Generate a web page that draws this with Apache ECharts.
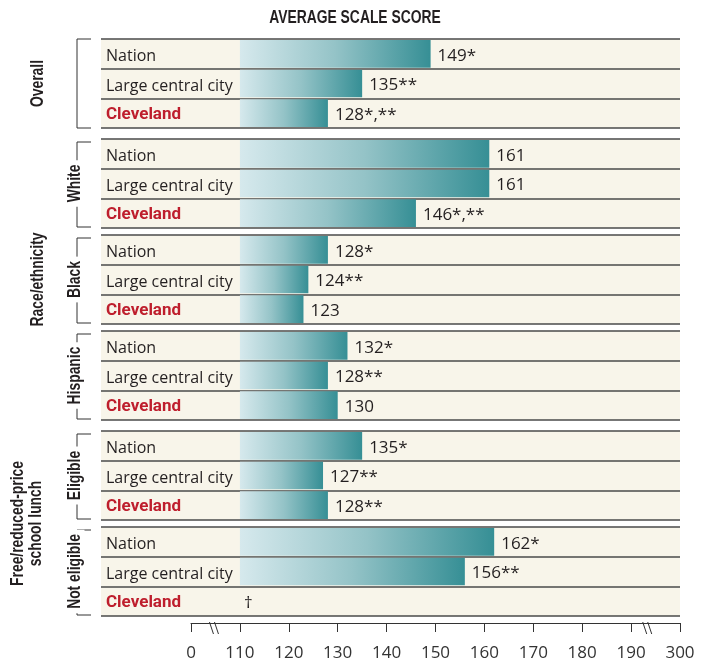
<!DOCTYPE html>
<html>
<head>
<meta charset="utf-8">
<script src="https://cdn.jsdelivr.net/npm/echarts@6/dist/echarts.min.js"></script>
<style>
  html, body { margin: 0; padding: 0; background: #ffffff; }
  #chart { width: 701px; height: 662px; }
</style>
</head>
<body>
<div id="chart"></div>
<script>
// ---- data ----
const rowLabels = ['Nation', 'Large central city', 'Cleveland'];

const overallScores  = [149, 135, 128];
const overallNotes   = ['*', '**', '*,**'];
const whiteScores    = [161, 161, 146];
const whiteNotes     = ['', '', '*,**'];
const blackScores    = [128, 124, 123];
const blackNotes     = ['*', '**', ''];
const hispanicScores = [132, 128, 130];
const hispanicNotes  = ['*', '**', ''];
const eligibleScores = [135, 127, 128];
const eligibleNotes  = ['*', '**', '**'];
const notEligibleScores = [162, 156, null];   // Cleveland: reporting standards not met
const notEligibleNotes  = ['*', '**', '†'];

const groupLabels = ['Overall', 'White', 'Black', 'Hispanic', 'Eligible', 'Not eligible'];
const categoryLabels = ['Overall', 'Race/ethnicity', 'Free/reduced-price\nschool lunch'];
const groupCategory = [0, 1, 1, 1, 2, 2];

const axisTickValues = [100, 110, 120, 130, 140, 150, 160, 170, 180, 190, 200];
const axisTickLabels = ['0', '110', '120', '130', '140', '150', '160', '170', '180', '190', '300'];
const barBase = 110;

const groupScores = [overallScores, whiteScores, blackScores, hispanicScores, eligibleScores, notEligibleScores];
const groupNotes  = [overallNotes, whiteNotes, blackNotes, hispanicNotes, eligibleNotes, notEligibleNotes];

// ---- layout ----
const W = 701;
const panelLeft = 101, panelRight = 680;
const axisStartX = 191;              // where the "0" tick sits
const groupH = 89;
const firstTop = 39;
const gapNewCategory = 11, gapSameCategory = 7;
const bracketX = 77;
const condense = 0.73;               // horizontal squeeze for the heading-style labels

const pxPerUnit = (panelRight - axisStartX) / (axisTickValues[axisTickValues.length - 1] - axisTickValues[0]);
const panelMin = axisTickValues[0] - (axisStartX - panelLeft) / pxPerUnit;

const groupTops = [];
groupLabels.forEach((g, i) => {
  if (i === 0) { groupTops.push(firstTop); return; }
  const gap = groupCategory[i] !== groupCategory[i - 1] ? gapNewCategory : gapSameCategory;
  groupTops.push(groupTops[i - 1] + groupH + gap);
});

const bodyFont = '"Open Sans", "Liberation Sans", sans-serif';
const headFont = '"Liberation Sans", Arial, sans-serif';
const ink = '#231f20';
const red = '#be1e2d';

const barFill = new echarts.graphic.LinearGradient(0, 0, 1, 0, [
  { offset: 0, color: '#d6e9ed' },
  { offset: 0.5, color: '#94c3c7' },
  { offset: 1, color: '#368f95' }
]);

const grids = [], xAxes = [], yAxes = [], series = [];

groupLabels.forEach((g, gi) => {
  grids.push({ left: panelLeft, right: W - panelRight, top: groupTops[gi], height: groupH, containLabel: false });
  xAxes.push({ type: 'value', gridIndex: gi, min: panelMin, max: 200, show: false });
  yAxes.push({
    type: 'category', gridIndex: gi, data: rowLabels, inverse: true,
    axisLine: { show: false }, axisTick: { show: false },
    axisLabel: {
      inside: true, margin: 5,
      formatter: v => v === 'Cleveland' ? '{c|' + v + '}' : '{n|' + v + '}',
      rich: {
        n: { color: ink, fontFamily: bodyFont, fontSize: 16, padding: [5, 0, 0, 0] },
        c: { color: red, fontFamily: 'Roboto, "Liberation Sans", sans-serif', fontSize: 17, fontWeight: 'bold', padding: [4, 0, 0, 0] }
      }
    },
    splitArea: { show: true, areaStyle: { color: ['#f8f5ea'] } },
    splitLine: { show: true, lineStyle: { color: '#4a4a4a', width: 1.5 } }
  });
  const scores = groupScores[gi];
  const notes = groupNotes[gi];
  series.push({
    type: 'custom', xAxisIndex: gi, yAxisIndex: gi,
    data: scores.map((v, i) => [v, i]),
    renderItem: (params, api) => {
      const i = params.dataIndex;
      const v = scores[i];
      const bandH = api.size([0, 1])[1];
      const base = api.coord([barBase, i]);
      const children = [];
      let endX = base[0];
      if (v != null) {
        const end = api.coord([v, i]);
        endX = end[0];
        children.push({
          type: 'rect',
          shape: { x: base[0], y: base[1] - bandH / 2 + 1, width: end[0] - base[0], height: bandH - 2 },
          style: { fill: barFill }
        });
      }
      children.push({
        type: 'text',
        style: {
          text: v != null ? String(v) + notes[i] : notes[i],
          x: endX + (v != null ? 7 : 4), y: base[1] + 2,
          verticalAlign: 'middle', align: 'left',
          fill: ink, font: '17px ' + bodyFont
        }
      });
      return { type: 'group', children };
    }
  });
});

// bottom scale axis
const axisGrid = grids.length;
grids.push({ left: axisStartX, right: W - panelRight, top: 600, height: 28 });
xAxes.push({
  type: 'value', gridIndex: axisGrid, min: 100, max: 200, interval: 10, position: 'bottom',
  axisLine: { show: true, lineStyle: { color: '#333', width: 1 } },
  axisTick: { show: true, length: 9, lineStyle: { color: '#333' } },
  splitLine: { show: false },
  axisLabel: {
    margin: 22, color: '#333', fontFamily: bodyFont, fontSize: 17,
    formatter: v => axisTickLabels[axisTickValues.indexOf(v)]
  }
});
yAxes.push({ type: 'value', gridIndex: axisGrid, show: false });
series.push({ type: 'line', xAxisIndex: axisGrid, yAxisIndex: axisGrid, data: [] });

// ---- decorations: title, brackets, group labels, axis break marks ----
const graphic = [];
graphic.push({
  type: 'text', x: 355, y: 18, scaleX: condense,
  style: { text: 'AVERAGE SCALE SCORE', font: 'bold 19px ' + headFont, fill: ink, align: 'center', verticalAlign: 'middle' }
});

groupLabels.forEach((g, gi) => {
  const top = groupTops[gi], bottom = top + groupH;
  const isTopLevel = gi === 0;
  const t = isTopLevel ? top : top + 3;
  const b = isTopLevel ? bottom : bottom - 1;
  graphic.push({
    type: 'polyline', z: 1,
    shape: { points: [[bracketX + 14, t], [bracketX, t], [bracketX, b], [bracketX + 14, b]] },
    style: { stroke: '#333', lineWidth: 1, fill: null }
  });
  if (!isTopLevel) {
    graphic.push({
      type: 'text', z: 5, x: 75, y: (top + bottom) / 2, rotation: Math.PI / 2, scaleX: condense,
      style: {
        text: g, font: 'bold 19px ' + headFont, fill: ink, align: 'center', verticalAlign: 'middle',
        backgroundColor: '#ffffff', padding: [0, 6]
      }
    });
  }
});

categoryLabels.forEach((c, ci) => {
  const members = groupCategory.map((gc, gi) => gc === ci ? gi : -1).filter(gi => gi >= 0);
  const top = groupTops[members[0]];
  const bottom = groupTops[members[members.length - 1]] + groupH;
  graphic.push({
    type: 'text', x: ci === 2 ? 27 : 38, y: (top + bottom) / 2, rotation: Math.PI / 2, scaleX: condense,
    style: { text: c, font: 'bold 19px ' + headFont, fill: ink, align: 'center', verticalAlign: 'middle', lineHeight: 18 }
  });
});

// "//" break marks on the scale axis
[104.8, 193.4].forEach(v => {
  const cx = axisStartX + (v - 100) * pxPerUnit;
  [-3, 2].forEach(dx => {
    graphic.push({
      type: 'line', z: 5,
      shape: { x1: cx + dx - 2, y1: 622, x2: cx + dx + 2, y2: 634 },
      style: { stroke: '#333', lineWidth: 1 }
    });
  });
});

const chart = echarts.init(document.getElementById('chart'), null, { renderer: 'canvas' });
chart.setOption({
  animation: false,
  backgroundColor: '#ffffff',
  grid: grids,
  xAxis: xAxes,
  yAxis: yAxes,
  series: series,
  graphic: graphic
});
</script>
</body>
</html>
